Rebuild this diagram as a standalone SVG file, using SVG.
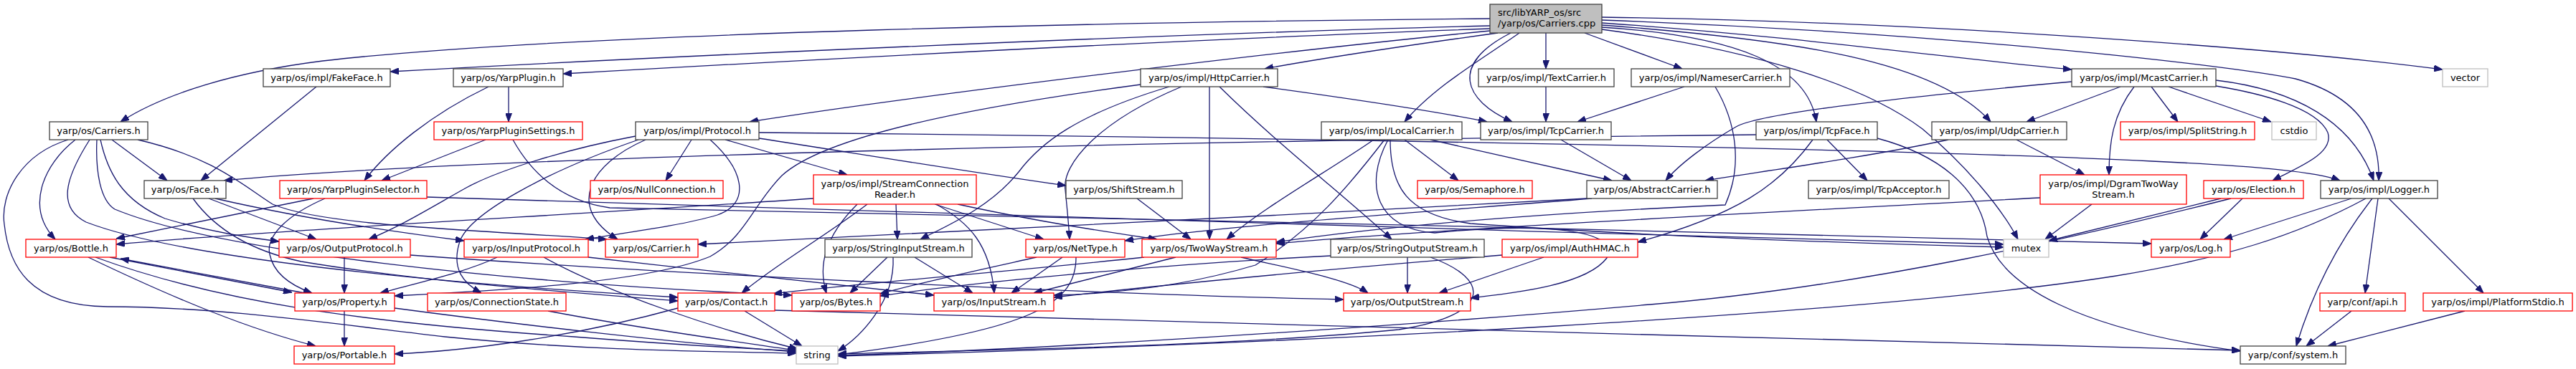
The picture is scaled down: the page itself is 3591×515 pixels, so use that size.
<svg xmlns="http://www.w3.org/2000/svg" width="3591" height="515" viewBox="0 0 3591 515">
<style>
.n rect{fill:#fff;stroke:#404040;stroke-width:1.3}
.r rect{fill:#fff;stroke:#ff0000;stroke-width:1.3}
.g rect{fill:#fff;stroke:#bfbfbf;stroke-width:1.3}
.root rect{fill:#bfbfbf;stroke:#404040;stroke-width:1.3}
text{font-family:"DejaVu Sans","Liberation Sans",sans-serif;font-size:13px;fill:#000;text-anchor:middle}
#edges path{fill:none;stroke:#191970;stroke-width:1.3;marker-end:url(#a)}
</style>
<defs>
<marker id="a" markerUnits="userSpaceOnUse" markerWidth="12" markerHeight="9" refX="12" refY="4.5" orient="auto">
<path d="M0,0 L12,4.5 L0,9 z" fill="#191970" stroke="#191970" stroke-width="1"/>
</marker>
</defs>
<rect width="3591" height="515" fill="#fff"/>
<g id="edges">
<path d="M2077,26 C1600,30 800,45 450,85 C330,100 230,130 168,170"/>
<path d="M2077,36 C1600,48 900,80 544,100"/>
<path d="M2077,40 C1650,55 1100,85 785,103"/>
<path d="M2077,43 C1800,70 1300,130 1045,170"/>
<path d="M2088,46 C1950,65 1850,80 1763,96"/>
<path d="M2118,46 C2070,80 2000,120 1958,170"/>
<path d="M2106,46 C2020,90 2040,140 2108,170"/>
<path d="M2155,46 L2155,96"/>
<path d="M2209,46 L2345,96"/>
<path d="M2233,38 C2420,50 2520,90 2532,170"/>
<path d="M2233,41 C2450,70 2600,120 2680,180 C2740,230 2790,290 2813,334"/>
<path d="M2233,35 C2500,55 2700,85 2775,170"/>
<path d="M2233,32 C2500,50 2750,85 2888,97"/>
<path d="M2233,28 C2700,45 3100,90 3200,110 C3290,135 3318,190 3316,252"/>
<path d="M2233,24 C2700,30 3200,70 3405,97"/>
<path d="M1590,118 C1350,150 1150,190 1090,245 C1050,285 1040,330 990,358 C900,395 700,405 550,413"/>
<path d="M1630,121 C1500,160 1450,200 1420,240 C1380,290 1320,315 1283,334"/>
<path d="M1647,121 C1530,170 1480,230 1485,265 C1488,295 1490,315 1491,334"/>
<path d="M1686,121 L1686,334"/>
<path d="M1700,121 C1780,200 1870,270 1940,334"/>
<path d="M1761,121 C1900,140 2000,155 2073,170"/>
<path d="M2155,121 L2155,170"/>
<path d="M2348,121 L2199,170"/>
<path d="M2391,121 C2420,170 2430,230 2405,286 C2100,300 1900,320 1779,338"/>
<path d="M886,190 C780,210 690,240 650,262 C600,290 560,315 514,334"/>
<path d="M890,195 C760,240 650,300 640,340 C630,375 645,395 671,409"/>
<path d="M900,195 C820,230 790,290 861,334"/>
<path d="M964,195 L928,252"/>
<path d="M990,195 C1040,240 1045,285 1000,300 C950,315 870,325 816,334"/>
<path d="M1011,195 L1181,244"/>
<path d="M1058,193 C1200,215 1350,240 1486,259"/>
<path d="M1058,185 C1600,190 2600,205 3000,225 C3150,232 3230,240 3262,252"/>
<path d="M105,195 C60,230 35,290 77,334"/>
<path d="M95,195 C30,215 0,270 6,313 C12,370 40,427 150,428 C300,428 450,450 620,470 C800,488 950,490 1110,493"/>
<path d="M156,195 L233,252"/>
<path d="M140,195 C150,240 170,280 230,305 C280,320 330,330 389,337"/>
<path d="M192,195 C300,220 340,260 380,285 C450,315 650,320 846,334"/>
<path d="M125,195 C90,250 80,290 120,310 C250,360 600,395 945,415"/>
<path d="M135,195 C133,240 140,280 160,292 C300,350 700,395 1104,412"/>
<path d="M441,121 L280,252"/>
<path d="M291,277 L441,334"/>
<path d="M300,277 C400,300 520,320 647,336"/>
<path d="M269,277 C300,320 350,350 420,365 C600,395 800,408 945,420"/>
<path d="M709,121 L709,170"/>
<path d="M681,121 C600,160 540,210 508,252"/>
<path d="M677,195 L532,252"/>
<path d="M715,195 C740,240 780,280 850,290 C1300,300 2400,322 2999,340"/>
<path d="M437,277 L162,333"/>
<path d="M453,277 C400,300 370,330 376,355 C382,385 410,400 435,409"/>
<path d="M595,275 C1000,290 2000,320 2793,341"/>
<path d="M123,359 C250,420 350,460 440,483"/>
<path d="M153,359 L407,408"/>
<path d="M133,359 C300,420 500,450 800,470 C950,482 1050,487 1110,490"/>
<path d="M425,409 L168,361"/>
<path d="M480,434 L480,483"/>
<path d="M550,430 C700,450 950,480 1110,491"/>
<path d="M480,359 L480,409"/>
<path d="M572,356 C900,380 1500,410 1873,418"/>
<path d="M693,359 C650,380 580,395 530,409"/>
<path d="M758,359 C850,410 1000,460 1112,487"/>
<path d="M820,359 C1000,380 1200,400 1302,412"/>
<path d="M764,434 C900,460 1050,480 1110,489"/>
<path d="M1038,434 L1118,483"/>
<path d="M945,430 C800,470 650,490 550,494"/>
<path d="M1080,433 C1500,450 2500,470 3123,489"/>
<path d="M1134,277 C800,300 400,320 162,341"/>
<path d="M1249,285 L1251,334"/>
<path d="M1303,285 L1455,334"/>
<path d="M1335,285 C1450,310 1550,325 1613,334"/>
<path d="M1305,285 C1350,310 1380,340 1386,409"/>
<path d="M1195,285 C1150,330 1140,370 1152,409"/>
<path d="M1209,285 C1150,330 1080,370 1034,409"/>
<path d="M1237,359 L1185,409"/>
<path d="M1275,359 L1356,409"/>
<path d="M1245,359 C1248,420 1200,470 1168,490"/>
<path d="M1445,359 C1350,380 1280,395 1227,410"/>
<path d="M1481,359 L1410,409"/>
<path d="M1500,359 C1500,420 1450,460 1168,495"/>
<path d="M1639,359 L1441,409"/>
<path d="M1595,359 C1400,380 1200,395 1078,410"/>
<path d="M1730,359 C1800,375 1880,390 1907,409"/>
<path d="M1585,277 L1660,334"/>
<path d="M1962,359 L1962,409"/>
<path d="M1994,359 C2080,390 2080,440 1950,460 C1700,485 1300,490 1168,494"/>
<path d="M1855,357 C1600,370 1350,395 1227,413"/>
<path d="M2152,359 L2006,409"/>
<path d="M2094,356 C1800,380 1600,400 1469,415"/>
<path d="M2176,195 L2274,252"/>
<path d="M1958,195 L2033,252"/>
<path d="M1994,195 L2247,252"/>
<path d="M1915,195 C1850,240 1760,290 1710,334"/>
<path d="M1930,195 C1880,260 1830,320 1750,370 C1650,400 1550,410 1469,412"/>
<path d="M1938,195 C1938,260 1960,300 2050,312 C2300,330 2600,340 2793,345"/>
<path d="M1935,195 C1900,260 1920,320 2000,325 C2150,310 2260,320 2240,360 C2210,400 2100,410 2050,416"/>
<path d="M2212,277 C1800,300 1300,325 973,341"/>
<path d="M2219,277 C2000,295 1700,315 1568,336"/>
<path d="M2448,188 C1800,195 700,215 312,252"/>
<path d="M2547,195 L2603,252"/>
<path d="M2527,195 C2480,260 2420,300 2283,338"/>
<path d="M2617,193 C2700,215 2760,260 2770,330 C2790,400 2900,460 3123,490"/>
<path d="M2811,195 L2906,244"/>
<path d="M2716,195 C2600,220 2450,240 2377,252"/>
<path d="M2956,121 L2825,170"/>
<path d="M2999,121 L3036,170"/>
<path d="M3023,121 L3166,170"/>
<path d="M2975,121 C2945,160 2940,200 2940,244"/>
<path d="M3089,120 C3150,130 3230,150 3245,185 C3255,215 3200,235 3168,252"/>
<path d="M3089,112 C3200,125 3280,170 3309,252"/>
<path d="M2888,114 C2600,140 2450,160 2420,177 C2380,200 2340,230 2322,252"/>
<path d="M2916,285 L2851,334"/>
<path d="M2844,276 C2400,300 2000,320 1779,340"/>
<path d="M3126,277 L3067,334"/>
<path d="M3096,277 C3000,300 2920,320 2856,336"/>
<path d="M3110,277 C2900,330 2600,400 2300,425 C1900,460 1400,490 1168,496"/>
<path d="M3278,277 L3100,334"/>
<path d="M3298,277 C3200,330 3100,360 2950,385 C2600,440 1800,480 1168,497"/>
<path d="M3307,277 C3250,350 3220,420 3201,483"/>
<path d="M3315,277 L3297,409"/>
<path d="M3330,277 L3462,409"/>
<path d="M3278,434 L3215,483"/>
<path d="M3436,434 L3245,483"/>
</g>
<g id="n_cpp" class="root"><rect x="2077" y="6" width="156" height="40"/><text x="2088" y="22" style="text-anchor:start">src/libYARP_os/src</text><text x="2088" y="37" style="text-anchor:start">/yarp/os/Carriers.cpp</text></g>
<g id="n_carriers" class="n"><rect x="69" y="170" width="137" height="25"/><text x="137.5" y="187">yarp/os/Carriers.h</text></g>
<g id="n_fakeface" class="n"><rect x="367" y="96" width="177" height="25"/><text x="455.5" y="113">yarp/os/impl/FakeFace.h</text></g>
<g id="n_yarpplugin" class="n"><rect x="632" y="96" width="153" height="25"/><text x="708.5" y="113">yarp/os/YarpPlugin.h</text></g>
<g id="n_http" class="n"><rect x="1590" y="96" width="191" height="25"/><text x="1685.5" y="113">yarp/os/impl/HttpCarrier.h</text></g>
<g id="n_text" class="n"><rect x="2061" y="96" width="189" height="25"/><text x="2155.5" y="113">yarp/os/impl/TextCarrier.h</text></g>
<g id="n_nameser" class="n"><rect x="2274" y="96" width="221" height="25"/><text x="2384.5" y="113">yarp/os/impl/NameserCarrier.h</text></g>
<g id="n_mcast" class="n"><rect x="2888" y="96" width="201" height="25"/><text x="2988.5" y="113">yarp/os/impl/McastCarrier.h</text></g>
<g id="n_vector" class="g"><rect x="3405" y="96" width="63" height="25"/><text x="3436.5" y="113">vector</text></g>
<g id="n_settings" class="r"><rect x="605" y="170" width="207" height="25"/><text x="708.5" y="187">yarp/os/YarpPluginSettings.h</text></g>
<g id="n_protocol" class="n"><rect x="886" y="170" width="172" height="25"/><text x="972" y="187">yarp/os/impl/Protocol.h</text></g>
<g id="n_local" class="n"><rect x="1842" y="170" width="196" height="25"/><text x="1940" y="187">yarp/os/impl/LocalCarrier.h</text></g>
<g id="n_tcpcarrier" class="n"><rect x="2064" y="170" width="182" height="25"/><text x="2155" y="187">yarp/os/impl/TcpCarrier.h</text></g>
<g id="n_tcpface" class="n"><rect x="2448" y="170" width="169" height="25"/><text x="2532.5" y="187">yarp/os/impl/TcpFace.h</text></g>
<g id="n_udp" class="n"><rect x="2693" y="170" width="188" height="25"/><text x="2787" y="187">yarp/os/impl/UdpCarrier.h</text></g>
<g id="n_split" class="r"><rect x="2956" y="170" width="187" height="25"/><text x="3049.5" y="187">yarp/os/impl/SplitString.h</text></g>
<g id="n_cstdio" class="g"><rect x="3167" y="170" width="62" height="25"/><text x="3198" y="187">cstdio</text></g>
<g id="n_face" class="n"><rect x="201" y="252" width="114" height="25"/><text x="258" y="269">yarp/os/Face.h</text></g>
<g id="n_selector" class="r"><rect x="390" y="252" width="205" height="25"/><text x="492.5" y="269">yarp/os/YarpPluginSelector.h</text></g>
<g id="n_nullconn" class="r"><rect x="823" y="252" width="185" height="25"/><text x="915.5" y="269">yarp/os/NullConnection.h</text></g>
<g id="n_scr" class="r"><rect x="1134" y="244" width="227" height="41"/><text x="1247.5" y="261">yarp/os/impl/StreamConnection</text><text x="1247.5" y="276">Reader.h</text></g>
<g id="n_shift" class="n"><rect x="1486" y="252" width="162" height="25"/><text x="1567" y="269">yarp/os/ShiftStream.h</text></g>
<g id="n_semaphore" class="r"><rect x="1976" y="252" width="160" height="25"/><text x="2056" y="269">yarp/os/Semaphore.h</text></g>
<g id="n_abstract" class="n"><rect x="2212" y="252" width="182" height="25"/><text x="2303" y="269">yarp/os/AbstractCarrier.h</text></g>
<g id="n_acceptor" class="n"><rect x="2521" y="252" width="196" height="25"/><text x="2619" y="269">yarp/os/impl/TcpAcceptor.h</text></g>
<g id="n_dgram" class="r"><rect x="2844" y="244" width="204" height="41"/><text x="2946" y="261">yarp/os/impl/DgramTwoWay</text><text x="2946" y="276">Stream.h</text></g>
<g id="n_election" class="r"><rect x="3072" y="252" width="139" height="25"/><text x="3141.5" y="269">yarp/os/Election.h</text></g>
<g id="n_logger" class="n"><rect x="3235" y="252" width="163" height="25"/><text x="3316.5" y="269">yarp/os/impl/Logger.h</text></g>
<g id="n_bottle" class="r"><rect x="36" y="334" width="126" height="25"/><text x="99" y="351">yarp/os/Bottle.h</text></g>
<g id="n_outproto" class="r"><rect x="389" y="334" width="183" height="25"/><text x="480.5" y="351">yarp/os/OutputProtocol.h</text></g>
<g id="n_inproto" class="r"><rect x="647" y="334" width="173" height="25"/><text x="733.5" y="351">yarp/os/InputProtocol.h</text></g>
<g id="n_carrier" class="r"><rect x="844" y="334" width="129" height="25"/><text x="908.5" y="351">yarp/os/Carrier.h</text></g>
<g id="n_sis" class="n"><rect x="1150" y="334" width="205" height="25"/><text x="1252.5" y="351">yarp/os/StringInputStream.h</text></g>
<g id="n_nettype" class="r"><rect x="1430" y="334" width="138" height="25"/><text x="1499" y="351">yarp/os/NetType.h</text></g>
<g id="n_twoway" class="r"><rect x="1592" y="334" width="187" height="25"/><text x="1685.5" y="351">yarp/os/TwoWayStream.h</text></g>
<g id="n_sos" class="n"><rect x="1855" y="334" width="214" height="25"/><text x="1962" y="351">yarp/os/StringOutputStream.h</text></g>
<g id="n_hmac" class="r"><rect x="2094" y="334" width="189" height="25"/><text x="2188.5" y="351">yarp/os/impl/AuthHMAC.h</text></g>
<g id="n_mutex" class="g"><rect x="2793" y="334" width="63" height="25"/><text x="2824.5" y="351">mutex</text></g>
<g id="n_log" class="r"><rect x="2999" y="334" width="110" height="25"/><text x="3054" y="351">yarp/os/Log.h</text></g>
<g id="n_property" class="r"><rect x="411" y="409" width="139" height="25"/><text x="480.5" y="426">yarp/os/Property.h</text></g>
<g id="n_connstate" class="r"><rect x="596" y="409" width="193" height="25"/><text x="692.5" y="426">yarp/os/ConnectionState.h</text></g>
<g id="n_contact" class="r"><rect x="945" y="409" width="135" height="25"/><text x="1012.5" y="426">yarp/os/Contact.h</text></g>
<g id="n_bytes" class="r"><rect x="1104" y="409" width="123" height="25"/><text x="1165.5" y="426">yarp/os/Bytes.h</text></g>
<g id="n_instream" class="r"><rect x="1302" y="409" width="167" height="25"/><text x="1385.5" y="426">yarp/os/InputStream.h</text></g>
<g id="n_outstream" class="r"><rect x="1873" y="409" width="177" height="25"/><text x="1961.5" y="426">yarp/os/OutputStream.h</text></g>
<g id="n_api" class="r"><rect x="3234" y="409" width="119" height="25"/><text x="3293.5" y="426">yarp/conf/api.h</text></g>
<g id="n_stdio" class="r"><rect x="3378" y="409" width="208" height="25"/><text x="3482" y="426">yarp/os/impl/PlatformStdio.h</text></g>
<g id="n_portable" class="r"><rect x="410" y="483" width="140" height="25"/><text x="480" y="500">yarp/os/Portable.h</text></g>
<g id="n_string" class="g"><rect x="1110" y="483" width="58" height="25"/><text x="1139" y="500">string</text></g>
<g id="n_system" class="n"><rect x="3123" y="483" width="147" height="25"/><text x="3196.5" y="500">yarp/conf/system.h</text></g>
</svg>
